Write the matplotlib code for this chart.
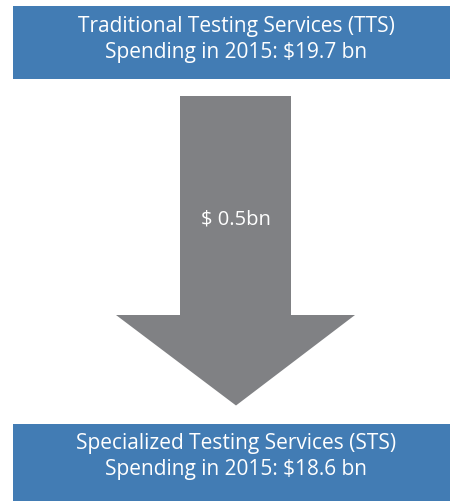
import matplotlib
matplotlib.use("Agg")
import matplotlib.pyplot as plt
from matplotlib.patches import Rectangle, Polygon

BLUE = "#427cb4"
GREY = "#808184"

# texts shown in the diagram
top_lines = ["Traditional Testing Services (TTS)", "Spending in 2015: $19.7 bn"]
bottom_lines = ["Specialized Testing Services (STS)", "Spending in 2015: $18.6 bn"]
arrow_label = "$ 0.5bn"

fig = plt.figure(figsize=(4.5, 5.01), dpi=100)
ax = fig.add_axes([0, 0, 1, 1])
ax.set_xlim(0, 450)
ax.set_ylim(501, 0)
ax.axis("off")

font = dict(family="Open Sans", color="white", ha="center", va="center")

# top box
ax.add_patch(Rectangle((13, 6), 437, 73, facecolor=BLUE, edgecolor="none"))
ax.text(236, 26, top_lines[0], fontsize=15, **font)
ax.text(236, 52, top_lines[1], fontsize=15, **font)

# arrow
ax.add_patch(Rectangle((180, 96), 111, 220, facecolor=GREY, edgecolor="none"))
ax.add_patch(Polygon([(116, 315), (355, 315), (236, 405.5)], closed=True,
                     facecolor=GREY, edgecolor="none"))
ax.text(236, 219, arrow_label, fontsize=14.5, **font)

# bottom box
ax.add_patch(Rectangle((13, 424), 437, 77, facecolor=BLUE, edgecolor="none"))
ax.text(236, 443, bottom_lines[0], fontsize=15, **font)
ax.text(236, 469, bottom_lines[1], fontsize=15, **font)

fig.savefig("out.png", dpi=100)
